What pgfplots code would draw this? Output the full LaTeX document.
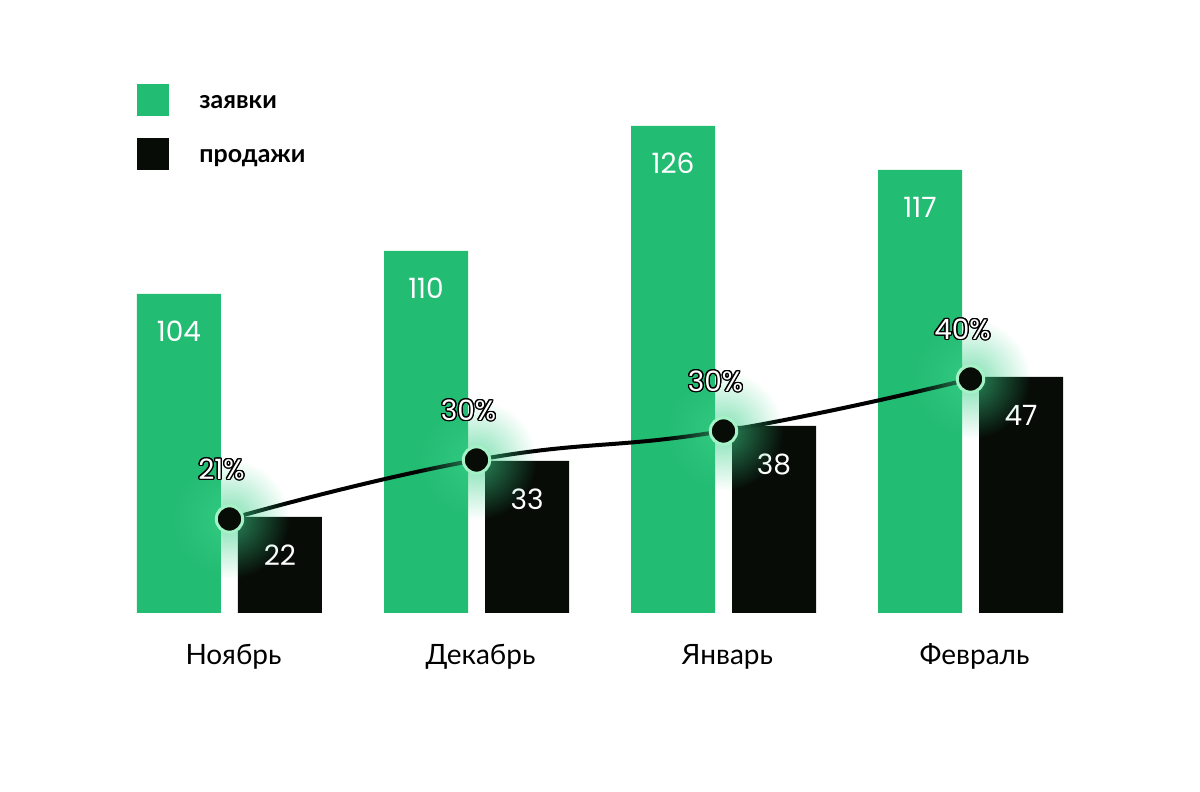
\documentclass[border=0pt]{standalone}
\usepackage{pgfplots}
\pgfplotsset{compat=1.18}
\usepackage{pgfplotstable}
\usetikzlibrary{fadings}
\usepackage{fontspec}
\setmainfont{Lato}
\newfontfamily\pop{Poppins}
\usepackage[copies]{contour}
\contourlength{0.65pt}
\definecolor{cgreen}{HTML}{23BC73}
\definecolor{cdark}{HTML}{070C07}
\definecolor{cring}{HTML}{A4F2C6}
\definecolor{cglow}{HTML}{3CD08A}
\tikzfading[name=glowfade, inner color=transparent!35, outer color=transparent!100]

% bar heights are the drawn heights; labels are the printed values
\pgfplotstableread{
x y label
0 319 104
1 362 110
2 487 126
3 443 117
}\zayavki
\pgfplotstableread{
x y label
0 96 22
1 152 33
2 187 38
3 236 47
}\prodazhi
\pgfplotstableread{
x y label
0 94 21
1 153 30
2 182 30
3 234 40
}\konv

\begin{document}
\begin{tikzpicture}
\useasboundingbox (0,0) rectangle (600pt,396pt);
\begin{axis}[
    at={(0,0)}, anchor=south west,
    width=600pt, height=396pt, scale only axis,
    xmin=-0.9291, xmax=3.9291, ymin=-179, ymax=613,
    clip=false,
    axis line style={draw=none},
    major tick style={draw=none},
    ytick=\empty,
    xtick={0,1,2,3},
    xticklabels={Ноябрь, Декабрь, Январь, Февраль},
    xticklabel style={anchor=base, xshift=2pt, yshift=63.5pt, font=\fontsize{14pt}{16pt}\selectfont},
    legend cell align=left,
    legend style={at={(rel axis cs:0.1142,0.8939)}, anchor=north west,
        draw=none, fill=none, inner sep=0pt, row sep=11pt, column sep=15pt,
        nodes={inner sep=0pt, yshift=-1.5pt}, font=\bfseries\fontsize{12.5pt}{14pt}\selectfont},
]
\addplot[ybar, bar width=42pt, bar shift=-25.25pt, fill=cgreen, draw=none,
    legend image code/.code={\fill[cgreen] (0pt,-8pt) rectangle (16pt,8pt);},
    point meta=explicit symbolic, nodes near coords,
    every node near coord/.append style={anchor=center, xshift=-25.25pt, yshift=-18.5pt,
        text=white, font=\pop\fontsize{14pt}{16pt}\selectfont}]
    table[x=x, y=y, meta=label] {\zayavki};
\addplot[ybar, bar width=42pt, bar shift=25.25pt, fill=cdark, draw=none,
    legend image code/.code={\fill[cdark] (0pt,-8pt) rectangle (16pt,8pt);},
    point meta=explicit symbolic, nodes near coords,
    every node near coord/.append style={anchor=center, xshift=25.25pt, yshift=-19pt,
        text=white, font=\pop\fontsize{14pt}{16pt}\selectfont}]
    table[x=x, y=y, meta=label] {\prodazhi};
% glow behind the markers
\addplot[forget plot, draw=none, mark=none, nodes near coords={},
    every node near coord/.style={circle, minimum size=60pt, inner sep=0pt,
        fill=cglow, path fading=glowfade, anchor=center}]
    table[x=x, y=y] {\konv};
\addplot[forget plot, smooth, tension=0.8, line width=2pt, color=black,
    mark=*, mark size=6.6pt,
    mark options={fill=cdark, draw=cring, line width=1.5pt},
    point meta=explicit symbolic,
    nodes near coords={\contour{black}{\textcolor{white}{\pgfplotspointmeta\%}}},
    every node near coord/.append style={anchor=center, xshift=-4pt, yshift=24.5pt,
        font=\pop\fontsize{14pt}{16pt}\selectfont}]
    table[x=x, y=y, meta=label] {\konv};
\legend{заявки, продажи}
\end{axis}
\end{tikzpicture}
\end{document}
